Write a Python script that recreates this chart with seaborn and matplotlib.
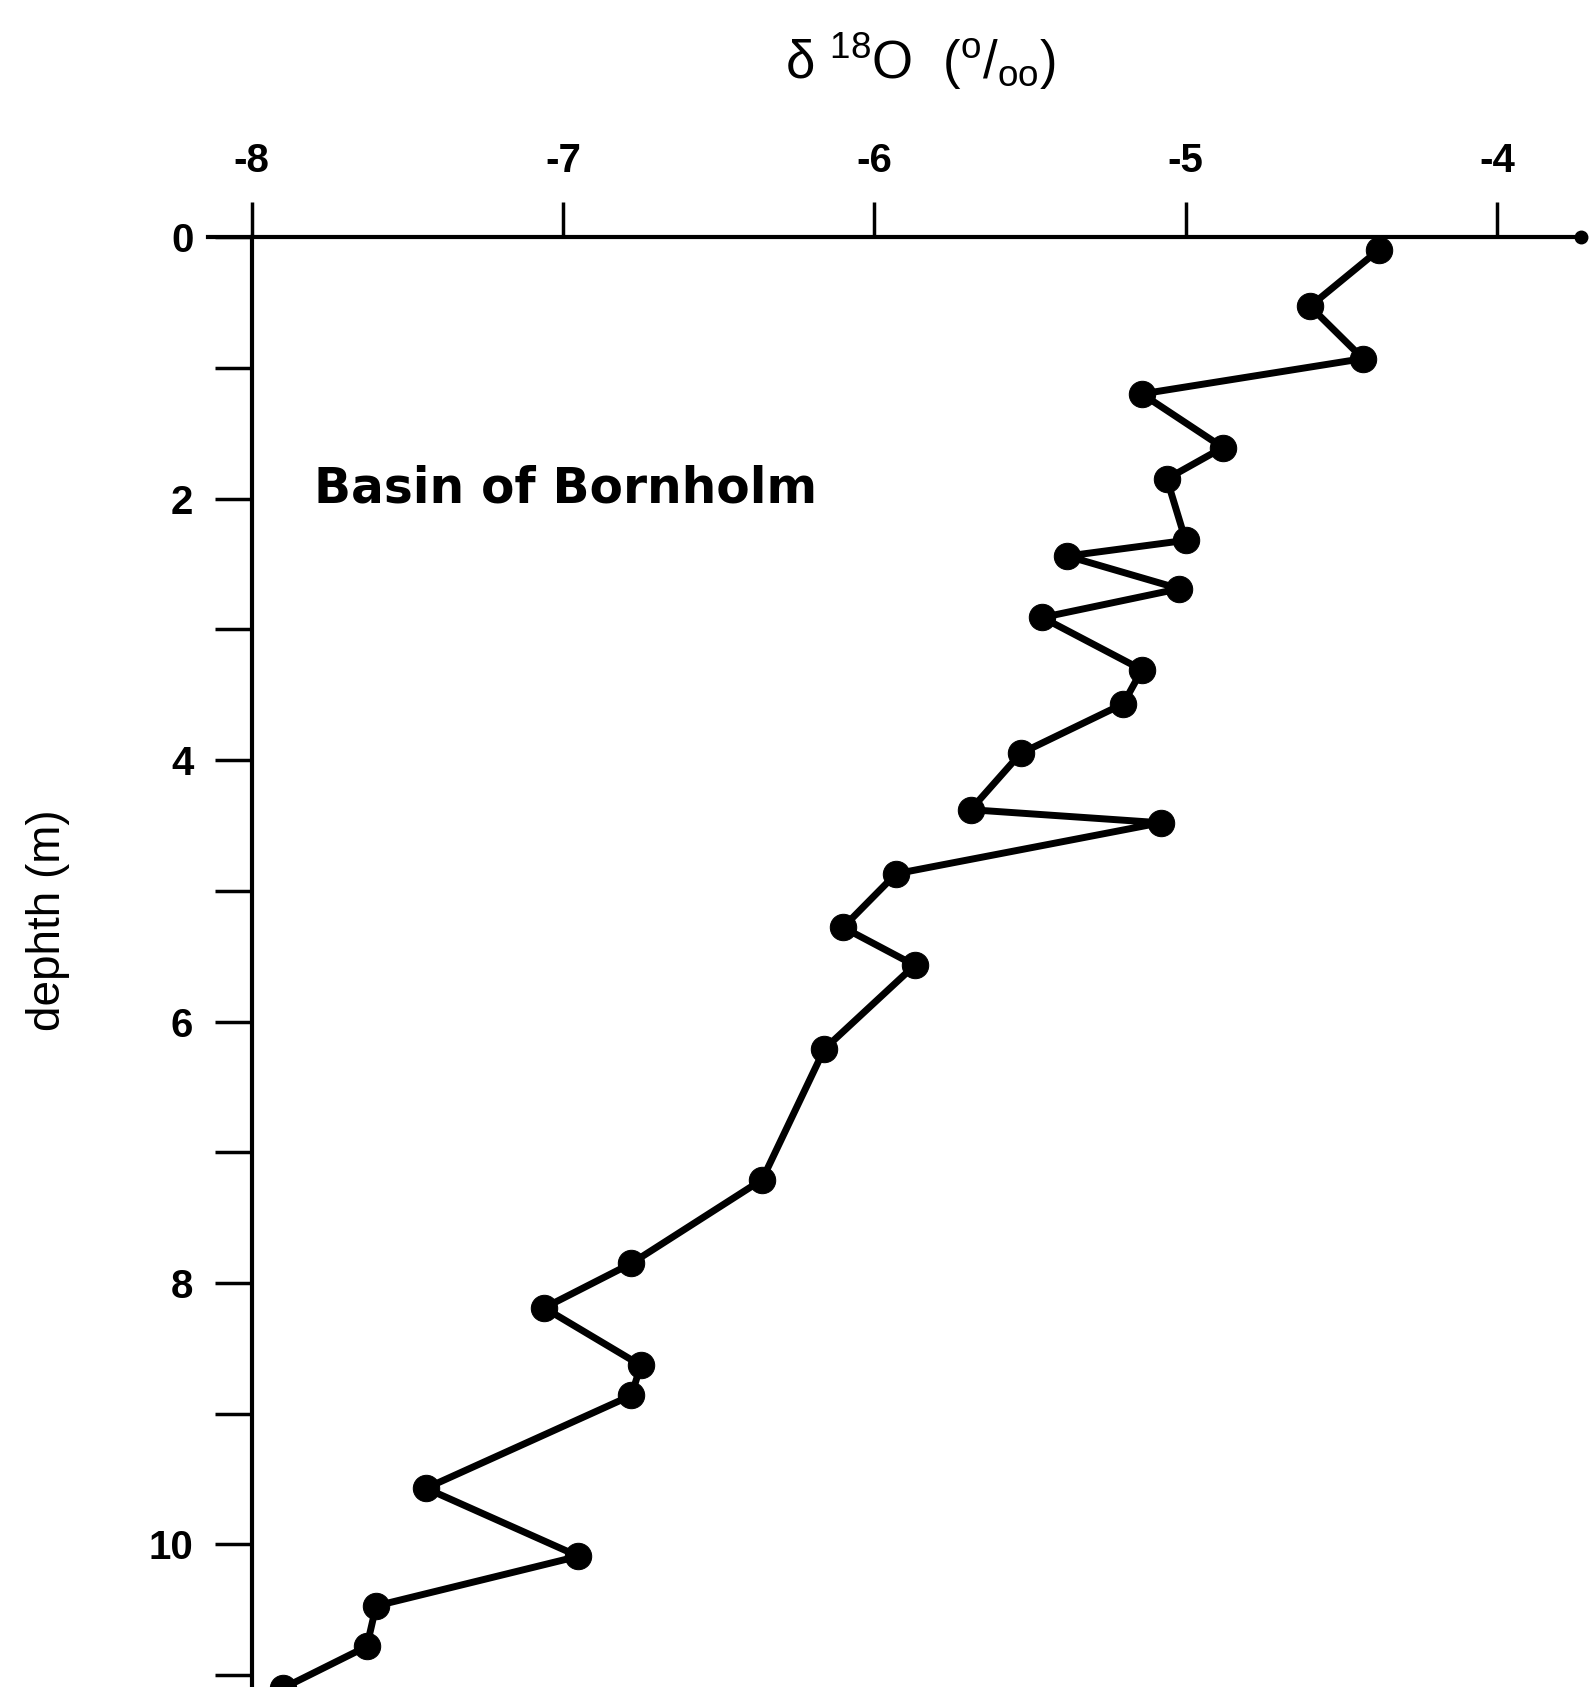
import matplotlib
matplotlib.use("Agg")
import matplotlib.pyplot as plt
from matplotlib.ticker import MultipleLocator
import seaborn as sns
import pandas as pd

# Oxygen isotope profile, Basin of Bornholm core
depth_m = [0.10, 0.53, 0.93, 1.20, 1.61, 1.85, 2.32, 2.44, 2.69, 2.91,
           3.31, 3.57, 3.95, 4.38, 4.48, 4.87, 5.28, 5.57, 6.21, 7.21,
           7.85, 8.19, 8.63, 8.86, 9.57, 10.09, 10.47, 10.78, 11.10]
d18o = [-4.38, -4.60, -4.43, -5.14, -4.88, -5.06, -5.00, -5.38, -5.02, -5.46,
        -5.14, -5.20, -5.53, -5.69, -5.08, -5.93, -6.10, -5.87, -6.16, -6.36,
        -6.78, -7.06, -6.75, -6.78, -7.44, -6.95, -7.60, -7.63, -7.90]

x_ticks = [-8, -7, -6, -5, -4]
x_tick_labels = ["-8", "-7", "-6", "-5", "-4"]
y_ticks = [0, 2, 4, 6, 8, 10]

df = pd.DataFrame({"depth": depth_m, "d18o": d18o})

sns.set_style("white")
plt.rcParams["font.family"] = ["Liberation Sans", "DejaVu Sans"]
plt.rcParams["mathtext.fontset"] = "custom"
plt.rcParams["mathtext.rm"] = "Liberation Sans"
plt.rcParams["mathtext.it"] = "Liberation Sans"
plt.rcParams["text.color"] = "black"
plt.rcParams["axes.labelcolor"] = "black"

fig = plt.figure(figsize=(15.94, 16.87), dpi=100)
ax = fig.add_axes([0.1305, 0.0, 0.8613, 0.8595])

sns.lineplot(data=df, x="d18o", y="depth", sort=False, estimator=None,
             color="black", linewidth=5, marker="o", markersize=19,
             markeredgecolor="black", ax=ax, clip_on=False)

ax.set_xlim(-8.14, -3.73)
ax.set_ylim(11.09, 0)

# axes drawn as a cross: x axis along the top at depth 0, y axis at -8 permil
for s in ["right", "bottom"]:
    ax.spines[s].set_visible(False)
ax.spines["left"].set_position(("data", -8))
for s in ["top", "left"]:
    ax.spines[s].set_linewidth(3)
    ax.spines[s].set_color("black")

ax.xaxis.tick_top()
ax.xaxis.set_label_position("top")
ax.set_xticks(x_ticks)
ax.set_xticklabels(x_tick_labels)
ax.set_yticks(y_ticks)
ax.yaxis.set_minor_locator(MultipleLocator(1))

ax.tick_params(axis="x", which="major", direction="out", length=25, width=2.5,
               pad=16, labelsize=29, colors="black")
ax.tick_params(axis="y", which="both", direction="out", length=27, width=2.5,
               pad=15, labelsize=29, colors="black", left=True)
ax.tick_params(axis="y", which="minor", labelleft=False)
for lab in ax.get_xticklabels() + ax.get_yticklabels():
    lab.set_fontweight("bold")

ax.set_xlabel(r"δ $^{18}$O  ($^{o}$/$_{oo}$)", fontsize=38, va="center")
ax.xaxis.set_label_coords(0.519, 1.121)
ax.set_ylabel("dephth (m)", fontsize=33, va="center")
ax.yaxis.set_label_coords(-0.1165, 0.529)

# end of the x axis
ax.plot([1.0], [1.0], "o", color="black", markersize=9,
        transform=ax.transAxes, clip_on=False)

ax.text(-7.8, 1.92, "Basin of Bornholm", fontsize=35, fontweight="bold",
        family="DejaVu Sans", ha="left", va="center")

fig.savefig("out.png", dpi=100)
